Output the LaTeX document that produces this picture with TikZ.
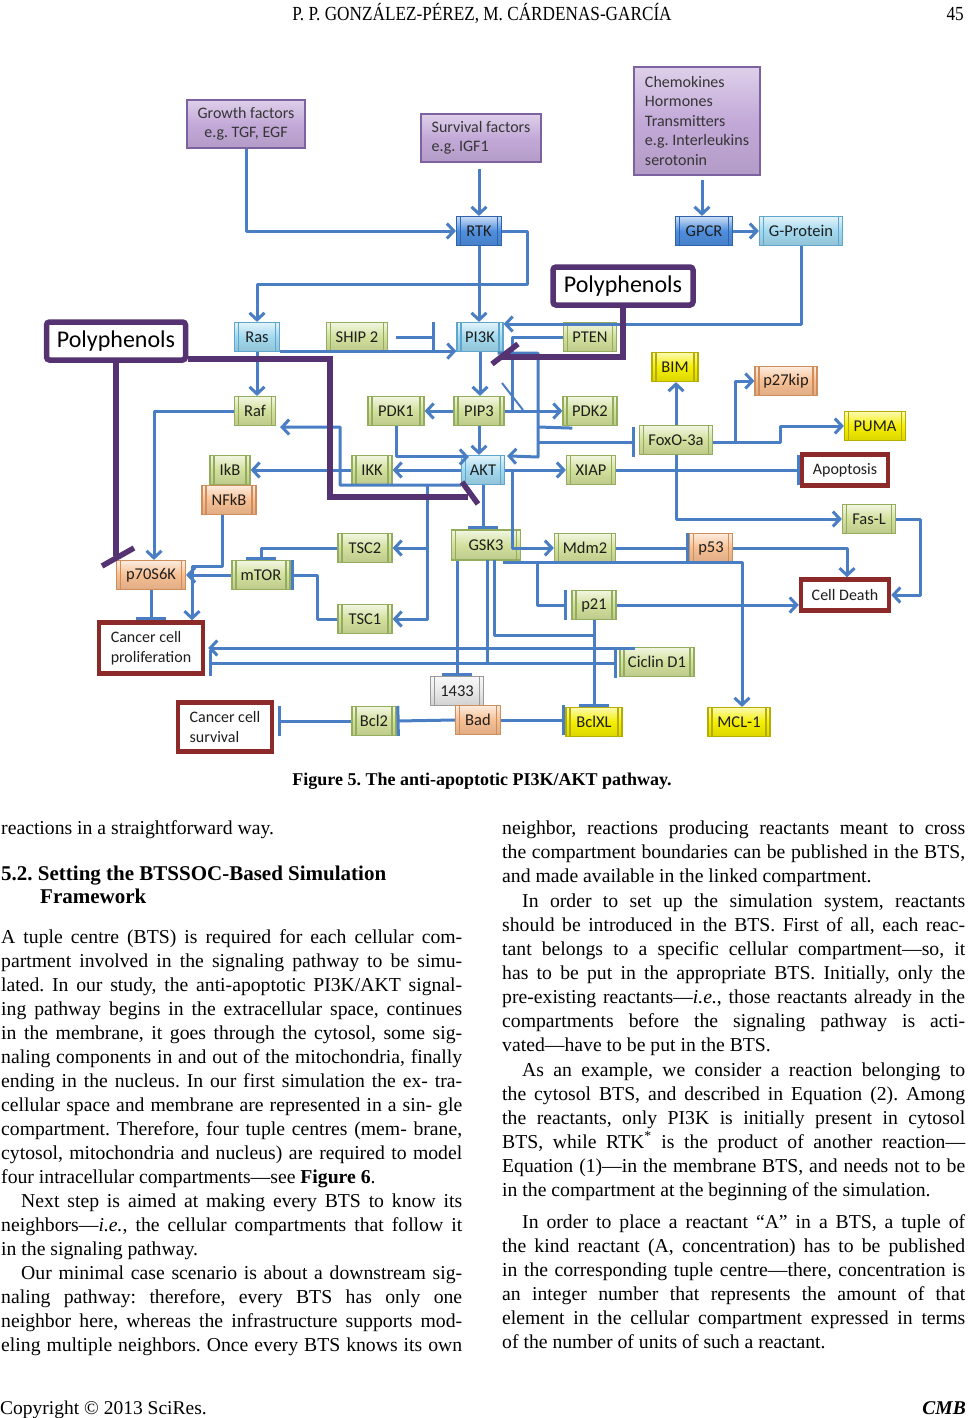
\documentclass[tikz,border=0pt]{standalone}
\usepackage{fontspec}
\setmainfont{Liberation Serif}
\newfontfamily\calib{Carlito}
\usetikzlibrary{arrows.meta,calc}
\frenchspacing
\definecolor{cblue}{HTML}{4A7EC4}
\definecolor{polyc}{HTML}{553272}
\definecolor{outc}{HTML}{8C2A2A}
\definecolor{gfill}{HTML}{D2E09C}
\definecolor{gbord}{HTML}{93AD5C}
\definecolor{cfill}{HTML}{A2D8EE}
\definecolor{cbord}{HTML}{5EA6CE}
\definecolor{dfill}{HTML}{4F8EDD}
\definecolor{dbord}{HTML}{2C62AE}
\definecolor{ofill}{HTML}{F7BF93}
\definecolor{obord}{HTML}{CF8D5C}
\definecolor{yfill}{HTML}{F4EE00}
\definecolor{ybord}{HTML}{B5AE00}
\definecolor{rfill}{HTML}{E8E8E8}
\definecolor{rbord}{HTML}{9A9A9A}
\definecolor{pfill}{HTML}{C3A9D8}
\definecolor{pbord}{HTML}{7C62A0}
\definecolor{txt}{HTML}{1E1E1E}
\newcommand\bodyfont{\fontsize{19.7}{24}\selectfont\frenchspacing}
\newcommand\tj[4]{\node[anchor=base west,inner sep=0pt,font=\bodyfont] (#1) at (#2) {\makebox[#3pt][s]{#4}};}
\newcommand\tl[3]{\node[anchor=base west,inner sep=0pt,font=\bodyfont] (#1) at (#2) {#3};}
\tikzset{
  bx/.style 2 args={draw=#2, line width=1.2pt, top color=#1!30!white, bottom color=#1!90!black, middle color=#1,
    inner sep=0pt, minimum height=29pt, text=txt, font=\calib\fontsize{16.5}{18}\selectfont,
    path picture={\draw[#2, line width=1.6pt]
      ([xshift=4pt]path picture bounding box.north west) -- ([xshift=4pt]path picture bounding box.south west)
      ([xshift=-4pt]path picture bounding box.north east) -- ([xshift=-4pt]path picture bounding box.south east);}},
  gbox/.style={bx={gfill}{gbord}},
  cybox/.style={bx={cfill}{cbord}},
  dbbox/.style={bx={dfill}{dbord}},
  obox/.style={bx={ofill}{obord}},
  ybox/.style={bx={yfill}{ybord}},
  grbox/.style={bx={rfill}{rbord}},
  pbox/.style={draw=pbord, line width=1.5pt, top color=pfill!55!white, bottom color=pfill!92!black, middle color=pfill,
    inner sep=0pt, text=txt!90!white, font=\calib\fontsize{16}{19.5}\selectfont},
  poly/.style={draw=polyc, line width=5.5pt, fill=white, rounded corners=3pt, inner sep=0pt,
    text=black, font=\calib\fontsize{24}{28}\selectfont},
  outb/.style={draw=outc, line width=4.5pt, fill=white, inner sep=0pt, text=txt,
    font=\calib\fontsize{16}{20}\selectfont},
  conn/.style={draw=cblue, line width=3pt, line join=round},
  arr/.style={-{Straight Barb[length=7pt,width=15pt]}},
  inh/.style={-{Bar[width=30pt]}},
  pline/.style={draw=polyc, line width=5.5pt}
}
\begin{document}
\begin{tikzpicture}[x=1pt,y=-1pt]
\useasboundingbox (0,0) rectangle (968,1418);
\fill[white] (0,0) rectangle (968,1418);

% header / footer
\node[anchor=base, inner sep=0pt, font=\fontsize{20}{24}\selectfont, xscale=0.86] (hdr) at (482,21) {P. P. GONZÁLEZ-PÉREZ, M. CÁRDENAS-GARCÍA};
\node[anchor=base east, inner sep=0pt, font=\fontsize{20}{24}\selectfont, xscale=0.86] (pg) at (964,21) {45};
\node[anchor=base west, inner sep=0pt, font=\fontsize{19.5}{24}\selectfont] (cpy) at (0,1414) {Copyright © 2013 SciRes.};
\node[anchor=base east, inner sep=0pt, font=\bfseries\itshape\fontsize{19.5}{24}\selectfont] (cmb) at (966,1414) {CMB};

% ---------------- diagram nodes ----------------
\node[pbox, minimum width=118pt, minimum height=48pt, align=center] (gf) at (246,124) {Growth factors\\e.g. TGF, EGF};
\node[pbox, minimum width=120pt, minimum height=48pt, align=left] (sf) at (481,138) {Survival factors\\e.g. IGF1};
\node[pbox, minimum width=126pt, minimum height=108pt, align=left] (chem) at (697,121) {Chemokines\\Hormones\\Transmitters\\e.g. Interleukins\\serotonin};

\node[dbbox, minimum width=45pt] (rtk) at (479,231) {RTK};
\node[dbbox, minimum width=57pt] (gpcr) at (704,231) {GPCR};
\node[cybox, minimum width=83pt] (gprot) at (801,231) {G-Protein};

\node[poly, minimum width=140pt, minimum height=38pt] (pr) at (623,286) {Polyphenols};
\node[poly, minimum width=139pt, minimum height=38pt] (pl) at (116,341) {Polyphenols};

\node[cybox, minimum width=45pt] (ras) at (257,337) {Ras};
\node[gbox, minimum width=61pt] (ship) at (357,337) {SHIP 2};
\node[cybox, minimum width=46pt] (pi3k) at (480,337) {PI3K};
\node[gbox, minimum width=53pt] (pten) at (590,337) {PTEN};
\node[ybox, minimum width=46pt] (bim) at (675,367) {BIM};
\node[obox, minimum width=62pt] (p27) at (786,381) {p27kip};
\node[gbox, minimum width=41pt] (raf) at (255,411) {Raf};
\node[gbox, minimum width=56pt] (pdk1) at (396,411) {PDK1};
\node[gbox, minimum width=50pt] (pip3) at (479,411) {PIP3};
\node[gbox, minimum width=54pt] (pdk2) at (590,411) {PDK2};
\node[gbox, minimum width=73pt] (foxo) at (676,440) {FoxO-3a};
\node[ybox, minimum width=61pt] (puma) at (875,426) {PUMA};
\node[gbox, minimum width=40pt] (ikb) at (230,470) {IkB};
\node[gbox, minimum width=40pt] (ikk) at (372,470) {IKK};
\node[cybox, minimum width=43pt] (akt) at (483,470) {AKT};
\node[gbox, minimum width=49pt] (xiap) at (591,470) {XIAP};
\node[outb, minimum width=86pt, minimum height=31pt] (apop) at (845,470) {Apoptosis};
\node[obox, minimum width=54pt] (nfkb) at (229,500) {NFkB};
\node[gbox, minimum width=53pt] (fasl) at (869,519) {Fas-L};
\node[gbox, minimum width=54pt] (tsc2) at (365,548) {TSC2};
\node[gbox, minimum width=69pt, minimum height=30pt] (gsk3) at (486,545) {GSK3};
\node[gbox, minimum width=61pt] (mdm2) at (585,548) {Mdm2};
\node[obox, minimum width=43pt] (p53) at (711,548) {p53};
\node[obox, minimum width=69pt] (p70) at (151,575) {p70S6K};
\node[gbox, minimum width=58pt] (mtor) at (261,575) {mTOR};
\node[outb, minimum width=88pt, minimum height=31pt] (celld) at (845,595) {Cell Death};
\node[gbox, minimum width=54pt] (tsc1) at (365,619) {TSC1};
\node[gbox, minimum width=44pt] (p21) at (594,605) {p21};
\node[outb, minimum width=104pt, minimum height=51pt, align=left] (ccp) at (151,648) {Cancer cell\\proliferation};
\node[gbox, minimum width=74pt] (cic) at (657,662) {Ciclin D1};
\node[grbox, minimum width=53pt] (i1433) at (457,691) {1433};
\node[outb, minimum width=94pt, minimum height=49pt, align=left] (ccs) at (225,727) {Cancer cell\\survival};
\node[gbox, minimum width=44pt] (bcl2) at (374,721) {Bcl2};
\node[obox, minimum width=45pt] (bad) at (478,720) {Bad};
\node[ybox, minimum width=56pt] (bclxl) at (594,722) {BclXL};
\node[ybox, minimum width=62pt] (mcl1) at (739,722) {MCL-1};

% ---------------- connectors ----------------
\draw[conn,arr] (gf.south) |- (rtk.west);
\draw[conn,arr] ($(sf.south)+(-2,6)$) -- (rtk.north);
\draw[conn,arr] ($(chem.south)+(5,4)$) -- ($(gpcr.north)+(-2,0)$);
\draw[conn,arr] (gpcr) -- (gprot);
\draw[conn,arr] (rtk.east) -| (527,284) -| (ras.north);
\draw[conn,arr] (rtk.south) -- (rtk.south |- pi3k.north);
\draw[conn,arr] (gprot.south) |- ($(pi3k.east)+(0,-13)$);
\draw[conn,arr] ($(ras.south east)+(0,-1)$) -- ($(pi3k.south west)+(0,-1)$);
\draw[conn,inh] ($(ship.east)+(8,0)$) -- ($(pi3k.west)+(-21,0)$);
\draw[conn] (pten.west) -| (512,410);
\draw[conn, line width=2pt] (502,383) -- (523,410);
\draw[conn,arr] ($(pi3k.south east)+(-6,1)$) -| (538,457) -- ($(akt.north east)+(2,1)$);
\draw[conn] ($(pdk2.south west)+(10,2)$) -- (538,427);
\draw[conn,inh] (538,442) -- ($(foxo.west)+(-4,2)$);
\draw[conn,arr] (pi3k.south) -- (pi3k.south |- pip3.north);
\draw[conn,arr] (pip3.south) -- (pip3.south |- akt.north);
\draw[conn,arr] (pip3.west) -- (pdk1.east);
\draw[conn,arr] (pip3.east) -- (pdk2.west);
\draw[conn,arr] (pdk1.south) |- ($(akt.north west)+(8,2)$);
\draw[conn,arr] (ras.south) -- (ras.south |- raf.north);
\draw[conn,arr] (raf.west) -| ($(p70.north)+(3,0)$);
\draw[conn,arr] (akt.south west) -| (340,427) -- ($(raf.south east)+(4,1)$);
\draw[conn,arr] (427,484) |- (tsc2.east);
\draw[conn,arr] (427,484) |- (tsc1.east);
\draw[conn,arr] (akt.west) -- (ikk.east);
\draw[conn,arr] (ikk.west) -- (ikb.east);
\draw[conn,arr] ($(nfkb.south)+(-7,0)$) |- (192,566) -- ($(ccp.north)+(41,0)$);
\draw[conn,arr] (mtor.west) -- (p70.east);
\draw[conn,inh] (p70.south) -- (ccp.north);
\draw[conn,inh] (tsc2.west) -| (mtor.north);
\draw[conn,inh] (tsc1.west) -| ($(mtor.east)+(27,0)$) -- (mtor.east);
\draw[conn,arr] (akt.east) -- (xiap.west);
\draw[conn,inh] (xiap.east) -- (apop.west);
\draw[conn,arr] (foxo.north) -- (foxo.north |- bim.south);
\draw[conn,arr] ($(foxo.east)+(0,2)$) -| (780,426) -- (puma.west);
\draw[conn,arr] (735,442) |- (p27.west);
\draw[conn,arr] (foxo.south) |- (fasl.west);
\draw[conn,arr] (fasl.east) -| ($(celld.east)+(29,0)$) -- (celld.east);
\draw[conn,arr] (p53.east) -| ($(celld.north)+(2,0)$);
\draw[conn,inh] (mdm2.east) -- (p53.west);
\draw[conn,arr] (512,470) |- (mdm2.west);
\draw[conn,inh] (akt.south) -- (akt.south |- gsk3.north);
\draw[conn,arr] (503,562) -| ($(mcl1.north)+(3,0)$);
\draw[conn,inh] (537,562) |- ($(p21.west)+(-4,0)$);
\draw[conn,arr] (p21.east) -- (p21.east -| celld.west);
\draw[conn,inh] (p21.south) -- (bclxl.north);
\draw[conn,inh] (i1433.north |- gsk3.south) -- (i1433.north);
\draw[conn] (487,560) -- (487,663);
\draw[conn] (494,560) |- (594,635);
\draw[conn,arr] (635,648) -- ($(ccp.east)+(3,0)$);
\draw[conn,{Bar[width=30pt]}-{Bar[width=26pt]}] ($(cic.west)+(-2,1)$) -- (209,663);
\draw[conn,inh] (bad.west) -- (bcl2.east);
\draw[conn,inh] (bcl2.west) -- ($(bcl2.west -| ccs.east)+(4,0)$);
\draw[conn,inh] (bad.east) -- ($(bclxl.west)+(0,-2)$);

% polyphenol inhibitions
\draw[pline] (pl.south) -- (116,556);
\draw[pline] (102,566) -- (134,548);
\draw[pline] ($(pl.south east)+(0,-4)$) -| (330,497) -- (468,497);
\draw[pline] (462,482) -- (478,504);
\draw[pline] (pr.south) |- (500,357);
\draw[pline] (492,364) -- (518,344);

% caption
\node[anchor=base, inner sep=0pt, font=\bfseries\fontsize{18}{22}\selectfont] (cap) at (482,785) {Figure 5. The anti-apoptotic PI3K/AKT pathway.};

% ---------------- left column ----------------
\tl{a1}{1,834}{reactions in a straightforward way.}
\node[anchor=base west, inner sep=0pt, font=\bfseries\fontsize{21}{24}\selectfont] (h1) at (1,880) {5.2. Setting the BTSSOC-Based Simulation};
\node[anchor=base west, inner sep=0pt, font=\bfseries\fontsize{21}{24}\selectfont] (h2) at (40,903) {Framework};
\tj{a2}{1,943}{461}{A tuple centre (BTS) is required for each cellular com-}
\tj{a3}{1,967}{461}{partment involved in the signaling pathway to be simu-}
\tj{a4}{1,991}{461}{lated. In our study, the anti-apoptotic PI3K/AKT signal-}
\tj{a5}{1,1015}{461}{ing pathway begins in the extracellular space, continues}
\tj{a6}{1,1039}{461}{in the membrane, it goes through the cytosol, some sig-}
\tj{a7}{1,1063}{461}{naling components in and out of the mitochondria, finally}
\tj{a8}{1,1087}{461}{ending in the nucleus. In our first simulation the ex- tra-}
\tj{a9}{1,1111}{461}{cellular space and membrane are represented in a sin- gle}
\tj{a10}{1,1135}{461}{compartment. Therefore, four tuple centres (mem- brane,}
\tj{a11}{1,1159}{461}{cytosol, mitochondria and nucleus) are required to model}
\tl{a12}{1,1183}{four intracellular compartments—see \textbf{Figure 6}.}
\tj{a13}{21,1207}{441}{Next step is aimed at making every BTS to know its}
\tj{a14}{1,1231}{461}{neighbors—\textit{i.e.}, the cellular compartments that follow it}
\tl{a15}{1,1255}{in the signaling pathway.}
\tj{a16}{21,1279}{441}{Our minimal case scenario is about a downstream sig-}
\tj{a17}{1,1303}{461}{naling pathway: therefore, every BTS has only one}
\tj{a18}{1,1327}{461}{neighbor here, whereas the infrastructure supports mod-}
\tj{a19}{1,1351}{461}{eling multiple neighbors. Once every BTS knows its own}

% ---------------- right column ----------------
\tj{b1}{502,834}{463}{neighbor, reactions producing reactants meant to cross}
\tj{b2}{502,858}{463}{the compartment boundaries can be published in the BTS,}
\tl{b3}{502,882}{and made available in the linked compartment.}
\tj{b4}{522,907}{443}{In order to set up the simulation system, reactants}
\tj{b5}{502,931}{463}{should be introduced in the BTS. First of all, each reac-}
\tj{b6}{502,955}{463}{tant belongs to a specific cellular compartment—so, it}
\tj{b7}{502,979}{463}{has to be put in the appropriate BTS. Initially, only the}
\tj{b8}{502,1003}{463}{pre-existing reactants—\textit{i.e.}, those reactants already in the}
\tj{b9}{502,1027}{463}{compartments before the signaling pathway is acti-}
\tl{b10}{502,1051}{vated—have to be put in the BTS.}
\tj{b11}{522,1076}{443}{As an example, we consider a reaction belonging to}
\tj{b12}{502,1100}{463}{the cytosol BTS, and described in Equation (2). Among}
\tj{b13}{502,1124}{463}{the reactants, only PI3K is initially present in cytosol}
\tj{b14}{502,1148}{463}{BTS, while RTK\textsuperscript{*} is the product of another reaction—}
\tj{b15}{502,1172}{463}{Equation (1)—in the membrane BTS, and needs not to be}
\tl{b16}{502,1196}{in the compartment at the beginning of the simulation.}
\tj{b17}{522,1228}{443}{In order to place a reactant “A” in a BTS, a tuple of}
\tj{b18}{502,1252}{463}{the kind reactant (A, concentration) has to be published}
\tj{b19}{502,1276}{463}{in the corresponding tuple centre—there, concentration is}
\tj{b20}{502,1300}{463}{an integer number that represents the amount of that}
\tj{b21}{502,1324}{463}{element in the cellular compartment expressed in terms}
\tl{b22}{502,1348}{of the number of units of such a reactant.}
\end{tikzpicture}
\end{document}
